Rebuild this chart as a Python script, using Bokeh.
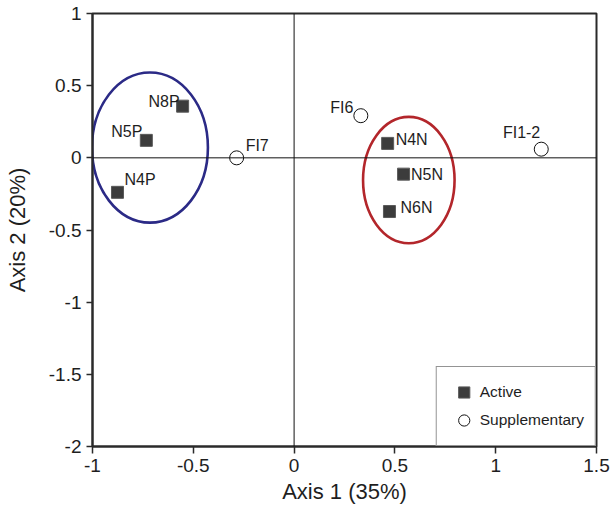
from bokeh.plotting import figure
from bokeh.models import Range1d, Span, Legend, LegendItem, FixedTicker, ColumnDataSource
from bokeh.core.properties import value
from bokeh.embed import file_html
from bokeh.resources import INLINE

# ---------------- data ----------------
active_names = ["N8P", "N5P", "N4P", "N4N", "N5N", "N6N"]
active_x = [-0.553, -0.733, -0.876, 0.464, 0.543, 0.473]
active_y = [0.358, 0.121, -0.239, 0.100, -0.113, -0.372]

supp_names = ["FI7", "FI6", "FI1-2"]
supp_x = [-0.285, 0.331, 1.226]
supp_y = [0.0, 0.292, 0.060]

group_cx = [-0.715, 0.569]
group_cy = [0.071, -0.154]
group_w = [0.575, 0.454]
group_h = [1.04, 0.875]
group_colors = ["#2b2a86", "#b3262b"]

x_ticks = [-1, -0.5, 0, 0.5, 1, 1.5]
x_tick_labels = ["-1", "-0.5", "0", "0.5", "1", "1.5"]
y_ticks = [-2, -1.5, -1, -0.5, 0, 0.5, 1]
y_tick_labels = ["-2", "-1.5", "-1", "-0.5", "0", "0.5", "1"]
x_title = "Axis 1 (35%)"
y_title = "Axis 2 (20%)"
legend_labels = ["Active", "Supplementary"]

# ---------------- label placement (screen px) ----------------
active_dx = [-3, -4, 7, 8, 7.5, 11]
active_dy = [-5, -9, -13, -4, 0, -4]
active_align = ["right", "right", "left", "left", "left", "left"]
supp_dx = [9, -7.5, -1]
supp_dy = [-12, -8.6, -17]
supp_align = ["left", "right", "right"]

FONT = "Liberation Sans"
INK = "#1e1e1e"

p = figure(width=610, height=513, x_range=Range1d(-1, 1.5), y_range=Range1d(-2, 1),
           output_backend="svg", toolbar_location=None, title=None,
           min_border_left=92, min_border_right=14, min_border_top=13, min_border_bottom=67)
p.background_fill_color = "white"
p.border_fill_color = "white"
p.grid.visible = False
p.outline_line_color = "#2a2a2a"
p.outline_line_width = 2

for ax, ticks, labels, title in ((p.xaxis[0], x_ticks, x_tick_labels, x_title),
                                 (p.yaxis[0], y_ticks, y_tick_labels, y_title)):
    ax.ticker = FixedTicker(ticks=ticks)
    ax.major_label_overrides = {t: l for t, l in zip(ticks, labels)}
    ax.axis_line_color = "#2a2a2a"
    ax.axis_line_width = 2
    ax.major_tick_line_color = "#2a2a2a"
    ax.major_tick_line_width = 1.5
    ax.major_tick_in = 0
    ax.minor_tick_line_color = None
    ax.major_label_text_font = FONT
    ax.major_label_text_font_size = "19px"
    ax.major_label_text_color = INK
    ax.axis_label = title
    ax.axis_label_text_font = FONT
    ax.axis_label_text_font_size = "22px"
    ax.axis_label_text_font_style = "normal"
    ax.axis_label_text_color = INK

p.xaxis.major_tick_out = 7
p.xaxis.major_label_standoff = 5
p.xaxis.axis_label_standoff = 4
p.yaxis.major_tick_out = 6
p.yaxis.major_label_standoff = 5
p.yaxis.axis_label_standoff = 16

# zero lines
p.add_layout(Span(location=0, dimension="height", line_color="#111111", line_width=1))
p.add_layout(Span(location=0, dimension="width", line_color="#111111", line_width=1))

# group ellipses
p.ellipse(x=group_cx, y=group_cy, width=group_w, height=group_h,
          fill_color=None, line_color=group_colors, line_width=2.6)

# points
asrc = ColumnDataSource(dict(x=active_x, y=active_y, name=active_names,
                             dx=active_dx, dy=active_dy, align=active_align))
ssrc = ColumnDataSource(dict(x=supp_x, y=supp_y, name=supp_names,
                             dx=supp_dx, dy=supp_dy, align=supp_align))

sq = p.scatter("x", "y", source=asrc, marker="square", size=12,
               fill_color="#3c3c3c", line_color="#5a5a5a", line_width=1)
ci = p.scatter("x", "y", source=ssrc, marker="circle", size=14,
               fill_color="white", line_color="#111111", line_width=1)

for src in (asrc, ssrc):
    p.text("x", "y", text="name", source=src, x_offset="dx", y_offset="dy",
           text_align="align", text_baseline="middle",
           text_font=value(FONT), text_font_size="16px", text_color=INK)

legend = Legend(items=[LegendItem(label=legend_labels[0], renderers=[sq]),
                       LegendItem(label=legend_labels[1], renderers=[ci])],
                location="bottom_right", margin=0, padding=11, spacing=0,
                glyph_width=32, glyph_height=28, label_height=20, label_standoff=0,
                label_text_font=FONT, label_text_font_size="15.5px",
                label_text_color=INK, border_line_color="#2a2a2a",
                border_line_width=1, background_fill_color="white",
                background_fill_alpha=1)
p.add_layout(legend)

open("out.html", "w").write(file_html(p, INLINE))
